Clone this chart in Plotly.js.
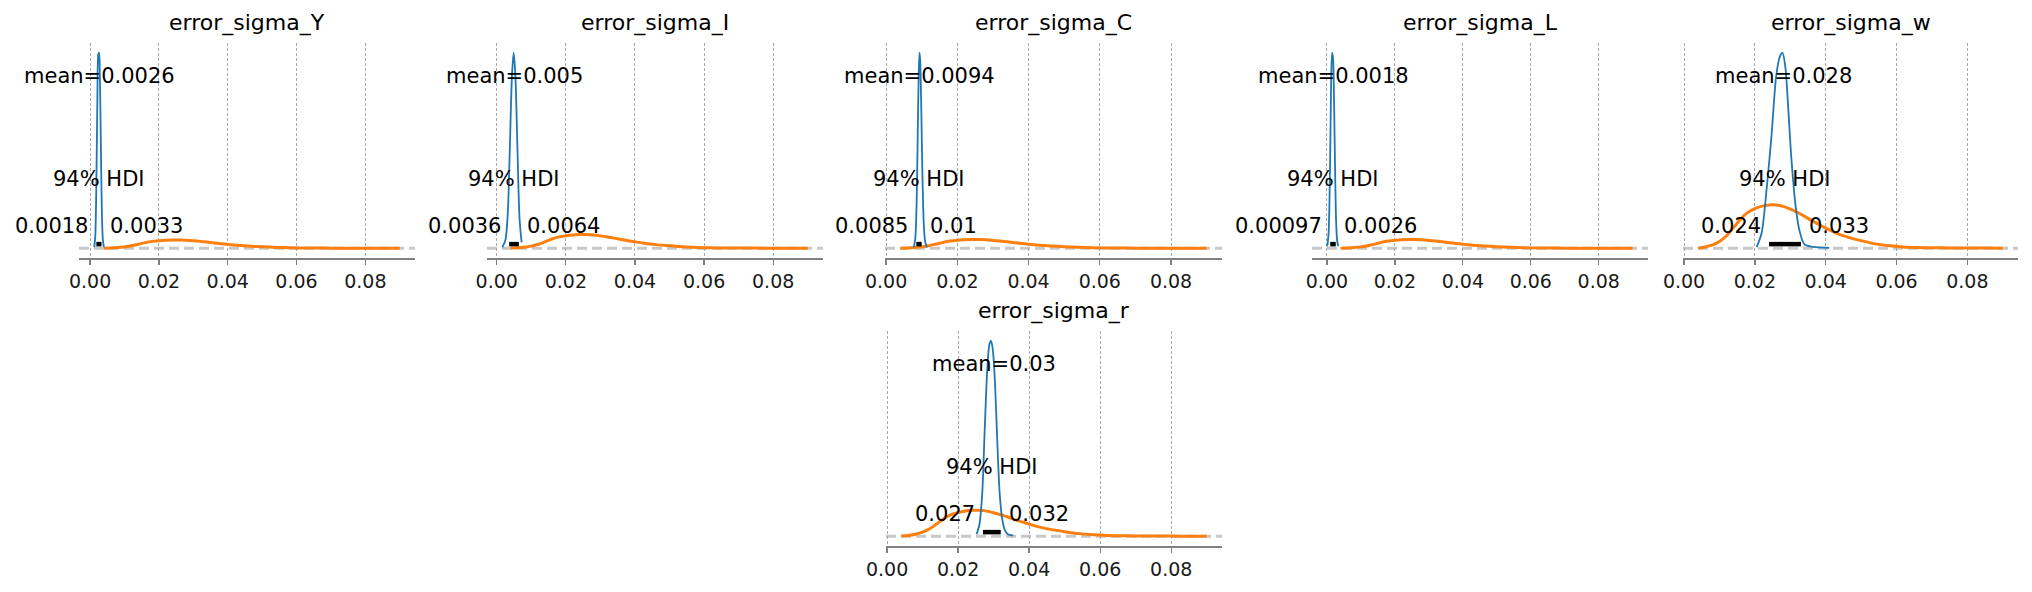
<!DOCTYPE html>
<html><head><meta charset="utf-8">
<script src="https://cdn.plot.ly/plotly-3.0.1.min.js"></script>
<style>html,body{margin:0;padding:0;background:#fff}#chart{width:2032px;height:592px}</style>
</head><body><div id="chart"></div>
<script>
// ---- data ----
const titles = ['error_sigma_Y', 'error_sigma_I', 'error_sigma_C', 'error_sigma_L', 'error_sigma_w', 'error_sigma_r'];
const means = [0.0026, 0.005, 0.0094, 0.0018, 0.028, 0.03];
const meanLabels = ['0.0026', '0.005', '0.0094', '0.0018', '0.028', '0.03'];
const hdiLow = [0.0018, 0.0036, 0.0085, 0.00097, 0.024, 0.027];
const hdiHigh = [0.0033, 0.0064, 0.01, 0.0026, 0.033, 0.032];
const hdiLowLabels = ['0.0018', '0.0036', '0.0085', '0.00097', '0.024', '0.027'];
const hdiHighLabels = ['0.0033', '0.0064', '0.01', '0.0026', '0.033', '0.032'];
const hdiText = '94% HDI';

const tickVals = [0, 0.02, 0.04, 0.06, 0.08];
const tickLabels = ['0.00', '0.02', '0.04', '0.06', '0.08'];

// prior density (orange), same in every panel
const priorX = [0.004, 0.006, 0.008, 0.010, 0.012, 0.014, 0.016, 0.018, 0.020, 0.022, 0.024, 0.026, 0.028, 0.030, 0.032, 0.034, 0.036, 0.038, 0.040, 0.043, 0.046, 0.050, 0.054, 0.058, 0.062, 0.066, 0.070, 0.075, 0.080, 0.085, 0.090];
const priorY = [0.3, 1.2, 3.0, 6.2, 11.5, 19, 27, 33, 36.5, 38.8, 39.9, 39.8, 38.5, 36, 33, 29.5, 25.5, 22, 18.5, 14, 10.5, 7, 4, 2.2, 1.2, 0.7, 0.45, 0.3, 0.2, 0.12, 0.08];

// posterior densities (blue)
const postY_x = [0.0012, 0.0015, 0.0018, 0.0021, 0.0024, 0.0026, 0.0028, 0.0031, 0.0034, 0.0037, 0.0040];
const postY_y = [5, 60, 300, 720, 935, 940, 860, 520, 180, 40, 5];
const postI_x = [0.0016, 0.0025, 0.0032, 0.0038, 0.0044, 0.0049, 0.0054, 0.0060, 0.0066, 0.0072];
const postI_y = [3, 23, 103, 296, 502, 570, 502, 285, 86, 17];
const postC_x = [0.0078, 0.0082, 0.0086, 0.0089, 0.0092, 0.0094, 0.0096, 0.0099, 0.0102, 0.0106, 0.0110, 0.0115];
const postC_y = [4, 45, 225, 540, 828, 900, 855, 630, 342, 108, 27, 4];
const postL_x = [0.0001, 0.0005, 0.0009, 0.0012, 0.0015, 0.0018, 0.0021, 0.0024, 0.0027, 0.0030, 0.0033];
const postL_y = [9, 72, 360, 720, 900, 873, 675, 360, 126, 36, 9];
const postW_x = [0.0205, 0.0219, 0.0233, 0.0247, 0.0260, 0.0270, 0.0278, 0.0286, 0.0294, 0.0303, 0.0316, 0.0326, 0.0340, 0.0363, 0.0410];
const postW_y = [1, 14, 54, 104, 158, 176, 180, 167, 130, 83, 36, 16, 3.6, 1.3, 0.4];
const postR_x = [0.0252, 0.0260, 0.0268, 0.0275, 0.0282, 0.0288, 0.0293, 0.0298, 0.0304, 0.0310, 0.0317, 0.0324, 0.0332, 0.0340, 0.0355];
const postR_y = [3, 18, 66, 165, 255, 294, 300, 285, 234, 150, 66, 27, 9, 3, 1];

const postXs = [postY_x, postI_x, postC_x, postL_x, postW_x, postR_x];
const postYs = [postY_y, postI_y, postC_y, postL_y, postW_y, postR_y];

// ---- layout (pixel boxes of each panel) ----
const W = 2032, H = 592;
const boxes = [
  [79, 415, 43, 258], [487, 823, 43, 258], [885, 1222, 43, 258],
  [1312, 1648, 43, 258], [1683, 2018, 43, 258], [886, 1222, 331, 546]
];
const FONT = 'DejaVu Sans, sans-serif';
const BLUE = '#1f77b4', ORANGE = '#ff7f0e';

const data = [], annotations = [], shapes = [];
const layout = {
  width: W, height: H, margin: {l: 0, r: 0, t: 0, b: 0},
  paper_bgcolor: '#fff', plot_bgcolor: '#fff', showlegend: false, hovermode: false,
  font: {family: FONT, color: '#000'}
};

titles.forEach((t, i) => {
  const n = i + 1, xa = 'x' + n, ya = 'y' + n;
  const xs = postXs[i], ys = postYs[i];
  const xmin = Math.min(Math.min(...xs), Math.min(...priorX));
  const xmax = Math.max(Math.max(...xs), Math.max(...priorX));
  const pad = 0.05 * (xmax - xmin);
  const peak = Math.max(...ys);
  const top = 1.05 * peak;
  const b = boxes[i];
  layout['xaxis' + (n === 1 ? '' : n)] = {
    domain: [b[0] / W, b[1] / W], anchor: ya, range: [xmin - pad, xmax + pad],
    tickmode: 'array', tickvals: tickVals, ticktext: tickLabels,
    showgrid: true, gridcolor: '#a0a0a0', griddash: '3px,2px', gridwidth: 0.9,
    showline: true, linecolor: '#808080', linewidth: 1.8,
    ticks: 'outside', ticklen: 5, tickwidth: 1.3, tickcolor: '#808080',
    tickfont: {family: FONT, size: 19, color: '#1a1a1a'}, zeroline: false, fixedrange: true
  };
  layout['yaxis' + (n === 1 ? '' : n)] = {
    domain: [1 - b[3] / H, 1 - b[2] / H], anchor: xa, range: [-0.05 * peak, top],
    showgrid: false, showticklabels: false, zeroline: false, showline: false, ticks: '', fixedrange: true
  };
  // baseline dashed
  shapes.push({type: 'line', xref: xa + ' domain', yref: ya, x0: 0, x1: 1, y0: 0, y1: 0,
    line: {color: '#c8c8c8', width: 2.8, dash: '10px,5px'}, layer: 'below'});
  // prior
  data.push({type: 'scatter', mode: 'lines', x: priorX, y: priorY, xaxis: xa, yaxis: ya,
    line: {color: ORANGE, width: 3, shape: 'spline', smoothing: 0.8}});
  // posterior
  data.push({type: 'scatter', mode: 'lines', x: xs, y: ys, xaxis: xa, yaxis: ya,
    line: {color: BLUE, width: 1.8, shape: 'spline', smoothing: 0.8}});
  // HDI bar
  data.push({type: 'scatter', mode: 'lines', x: [hdiLow[i], hdiHigh[i]], y: [0.02 * top, 0.02 * top],
    xaxis: xa, yaxis: ya, line: {color: '#000', width: 4.5}});
  // title
  annotations.push({xref: xa + ' domain', yref: ya + ' domain', x: 0.5, y: 1, xanchor: 'center', yanchor: 'bottom',
    yshift: 5, showarrow: false, text: t, font: {family: FONT, size: 22, color: '#000'}});
  const tf = {family: FONT, size: 21, color: '#000'};
  annotations.push({xref: xa, yref: ya, x: means[i], y: 0.8 * top, xanchor: 'center', yanchor: 'bottom', yshift: -6,
    showarrow: false, text: 'mean=' + meanLabels[i], font: tf});
  annotations.push({xref: xa, yref: ya, x: (hdiLow[i] + hdiHigh[i]) / 2, y: 0.3 * top, xanchor: 'center', yanchor: 'bottom', yshift: -6,
    showarrow: false, text: hdiText, font: tf});
  annotations.push({xref: xa, yref: ya, x: hdiLow[i], y: 0.07 * top, xanchor: 'right', yanchor: 'bottom', yshift: -6, xshift: -6,
    showarrow: false, text: hdiLowLabels[i], font: tf});
  annotations.push({xref: xa, yref: ya, x: hdiHigh[i], y: 0.07 * top, xanchor: 'left', yanchor: 'bottom', yshift: -6, xshift: 6,
    showarrow: false, text: hdiHighLabels[i], font: tf});
});
layout.annotations = annotations;
layout.shapes = shapes;
Plotly.newPlot('chart', data, layout, {staticPlot: true, displayModeBar: false});
</script>
</body></html>
